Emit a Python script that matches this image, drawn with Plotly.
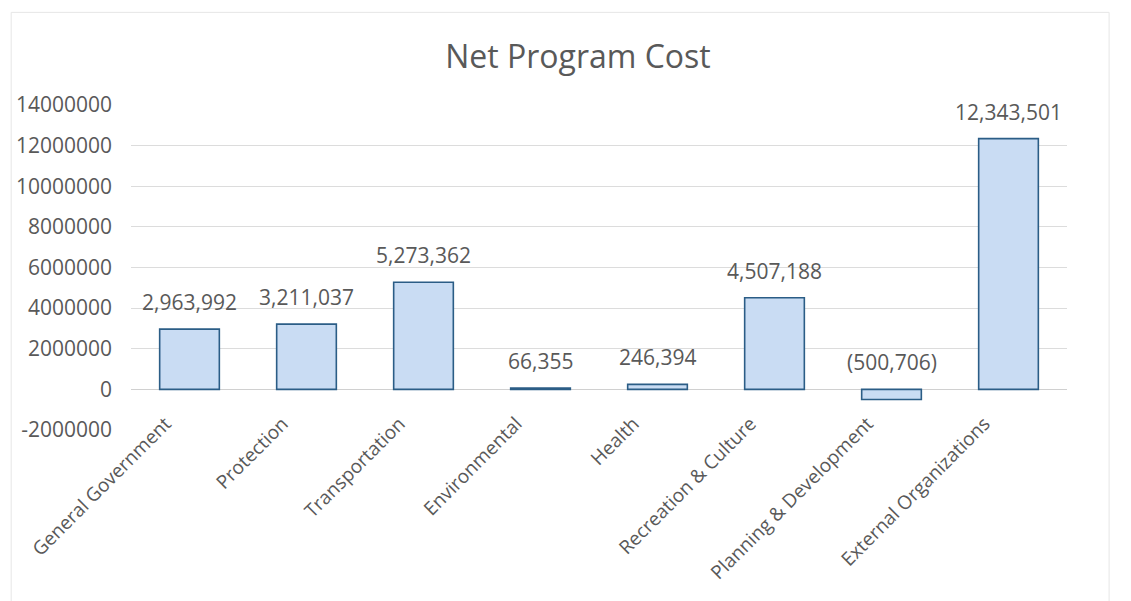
import plotly.graph_objects as go

categories = ["General Government", "Protection", "Transportation", "Environmental",
              "Health", "Recreation & Culture", "Planning & Development", "External Organizations"]
values = [2963992, 3211037, 5273362, 66355, 246394, 4507188, -500706, 12343501]
tick_vals = [-2000000, 0, 2000000, 4000000, 6000000, 8000000, 10000000, 12000000, 14000000]
tick_text = [str(v) for v in tick_vals]


def fmt(v):
    return f"({abs(v):,})" if v < 0 else f"{v:,}"


labels = [fmt(v) for v in values]
FONT = "Open Sans"
GREY = "#595959"

fig = go.Figure()
fig.add_trace(go.Bar(
    x=categories, y=values,
    marker=dict(color="#c9dcf3", line=dict(color="#2b5d86", width=1.6)),
    hoverinfo="x+y",
))

for c, v, t in zip(categories, values, labels):
    fig.add_annotation(x=c, y=max(v, 0), text=t, showarrow=False,
                       yanchor="bottom", yshift=11,
                       font=dict(family=FONT, size=21, color=GREY))

fig.update_layout(
    width=1131, height=601,
    margin=dict(l=131, r=64, t=105, b=171),
    paper_bgcolor="white", plot_bgcolor="white",
    bargap=0.49,
    showlegend=False,
    title=dict(text="Net Program Cost", x=0.511, xanchor="center", y=0.905, yanchor="middle",
               font=dict(family=FONT, size=32, color=GREY)),
    xaxis=dict(tickangle=-45, tickfont=dict(family=FONT, size=19, color=GREY),
               showgrid=False, showline=False, ticks="",
               ticklabelstandoff=-22, ticklabelshift=-24),
    yaxis=dict(range=[-2000000, 14000000], tickvals=tick_vals, ticktext=tick_text,
               tickfont=dict(family=FONT, size=21, color=GREY),
               showgrid=True, gridcolor="#dcdcdc", gridwidth=1,
               zeroline=True, zerolinecolor="#d0d0d0", zerolinewidth=1,
               showline=False, ticks="", ticklabelstandoff=18),
)

fig.add_shape(type="rect", xref="paper", yref="paper", x0=-0.128, x1=1.045, y0=-0.6, y1=1.285,
              line=dict(color="#e6e6e6", width=1), fillcolor="rgba(0,0,0,0)", layer="below")

fig.write_html("out.html")
